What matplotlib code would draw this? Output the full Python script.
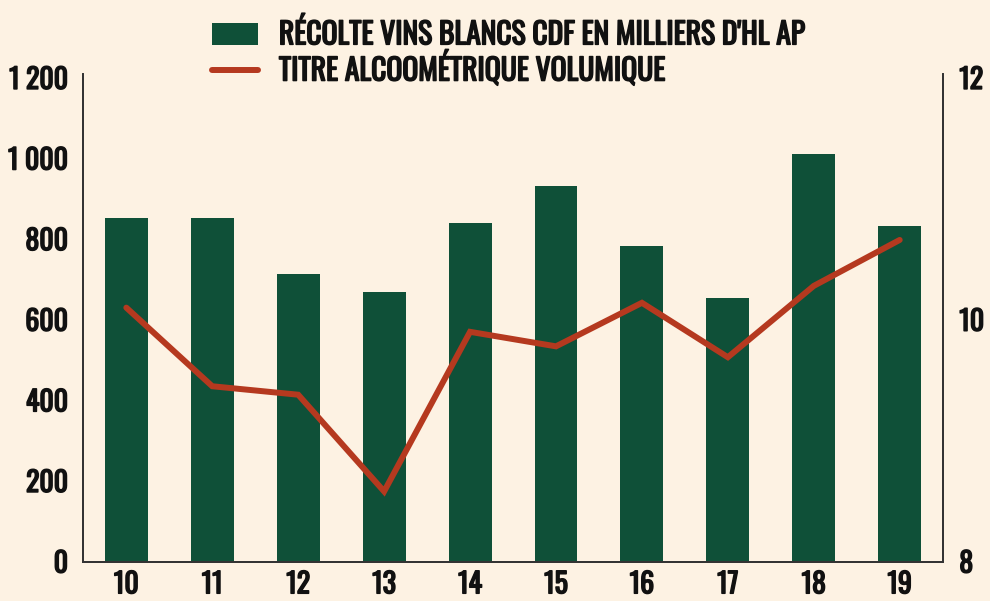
import matplotlib
matplotlib.use("Agg")
import matplotlib.pyplot as plt
import matplotlib.patheffects as pe
from matplotlib.patches import Patch
from matplotlib.lines import Line2D

years = ["10", "11", "12", "13", "14", "15", "16", "17", "18", "19"]
recolte = [853, 853, 714, 669, 840, 932, 783, 654, 1012, 833]
titre = [10.10, 9.45, 9.38, 8.58, 9.90, 9.78, 10.14, 9.69, 10.28, 10.66]
left_ticks = [0, 200, 400, 600, 800, 1000, 1200]
left_labels = ["0", "200", "400", "600", "800", "1 000", "1 200"]
right_ticks = [8, 10, 12]
label_bars = "RÉCOLTE VINS BLANCS CDF EN MILLIERS D'HL AP"
label_line = "TITRE ALCOOMÉTRIQUE VOLUMIQUE"

BG = "#FDF2E3"
GREEN = "#0F5038"
RED = "#B5391F"
INK = "#111111"
FAM = ["Oswald", "DejaVu Sans"]
BOLD = [pe.withStroke(linewidth=1.1, foreground=INK)]

plt.rcParams["font.family"] = FAM
plt.rcParams["font.weight"] = "bold"

fig = plt.figure(figsize=(9.9, 6.01), dpi=100, facecolor=BG)
ax = fig.add_axes([0.0842, 0.0656, 0.868, 0.8108])
ax.set_facecolor(BG)

x = list(range(len(years)))
ax.bar(x, recolte, width=0.5, color=GREEN, zorder=2)
ax.set_xlim(-0.5, len(years) - 0.5)
ax.set_ylim(0, 1209)
ax.set_yticks(left_ticks)
ax.set_yticklabels(left_labels)
ax.set_xticks(x)
ax.set_xticklabels(years)

ax2 = ax.twinx()
ax2.plot(x, titre, color=RED, lw=4.3, solid_capstyle="round", solid_joinstyle="miter", zorder=3)
ax2.set_ylim(8, 12.03)
ax2.set_yticks(right_ticks)
ax2.set_yticklabels([str(t) for t in right_ticks])

for a in (ax, ax2):
    a.spines["top"].set_visible(False)
    for s in ("left", "right", "bottom"):
        a.spines[s].set_color("#333333")
        a.spines[s].set_linewidth(1.3)
    a.tick_params(length=0, labelsize=20, labelcolor=INK)
ax.tick_params(axis="y", pad=11)
ax.tick_params(axis="x", pad=7)
ax2.tick_params(axis="y", pad=12)
for lab in ax.get_xticklabels() + ax.get_yticklabels() + ax2.get_yticklabels():
    lab.set_path_effects(BOLD)

handles = [Patch(facecolor=GREEN, edgecolor="none"),
           Line2D([0], [0], color=RED, lw=4.3, solid_capstyle="round")]
leg = fig.legend(handles, [label_bars, label_line], loc="upper left",
                 bbox_to_anchor=(0.19, 1.008), frameon=False, fontsize=21.3,
                 handlelength=1.55, handleheight=0.72, handletextpad=0.72,
                 labelspacing=0.04, borderpad=0.3)
for t in leg.get_texts():
    t.set_color(INK)
    t.set_path_effects(BOLD)

fig.savefig("out.png", dpi=100, facecolor=BG)
